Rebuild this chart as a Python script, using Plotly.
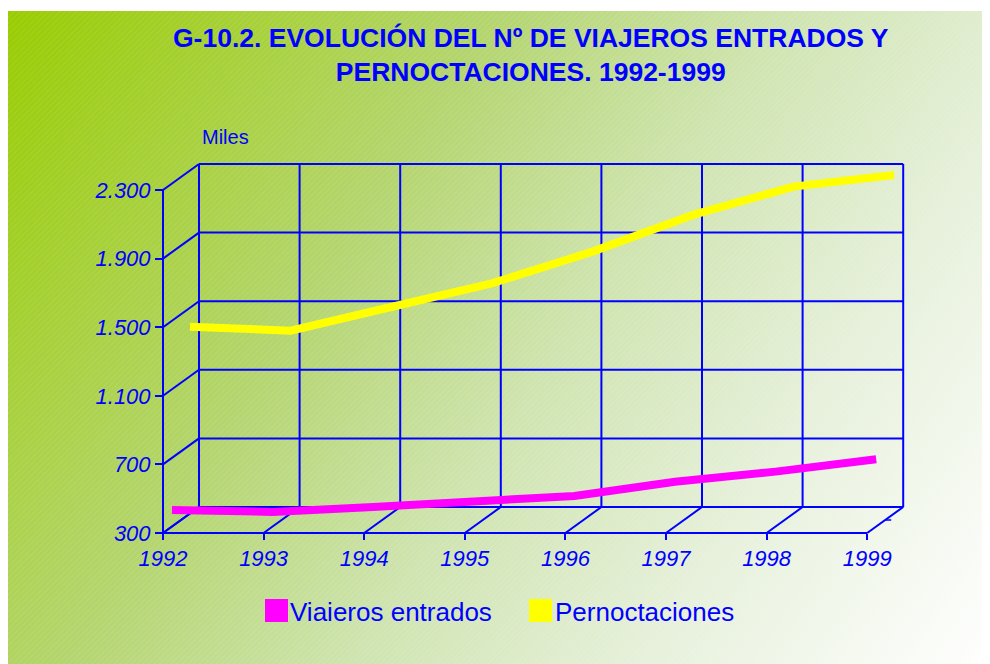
import base64
import plotly.graph_objects as go

# ---------------- data ----------------
years = ["1992", "1993", "1994", "1995", "1996", "1997", "1998", "1999"]
viajeros = [396, 385, 414, 445, 478, 561, 620, 692]          # miles
pernoctaciones = [1389, 1366, 1504, 1642, 1827, 2041, 2206, 2274]  # miles
y_ticks = [300, 700, 1100, 1500, 1900, 2300]
y_ticktext = ["300", "700", "1.100", "1.500", "1.900", "2.300"]
series_names = ["Viaieros entrados", "Pernoctaciones"]
series_colors = ["#FF00FF", "#FFFF00"]

W, H = 990, 664
OFF = 8.0            # page offset of the figure (body margin)
BLUE = "#0000FF"

def fx(px):  # page pixel -> figure paper fraction (x)
    return (px - OFF) / W

def fy(py):  # page pixel -> figure paper fraction (y)
    return 1 - (py - OFF) / H

# ---------------- geometry (pseudo-3D), in page pixels ----------------
PX_X0 = 163.0          # pixel of category 0 on the front axis
PX_PER_X = 100.6
PX_Y0 = 533.0          # pixel of value 300
PX_PER_Y = 343.0 / 2000.0
DEPTH_PX = (36.0, 26.0)
DX = DEPTH_PX[0] / PX_PER_X          # depth offset in x data units
DY = DEPTH_PX[1] / PX_PER_Y          # depth offset in y data units
YMIN, YMAX = y_ticks[0], y_ticks[-1]
NCAT = len(years) - 1

left_px, right_px = 158.0, 912.0
bottom_px, top_px = 536.0, 150.0
x_range = [(left_px - PX_X0) / PX_PER_X, (right_px - PX_X0) / PX_PER_X]
y_range = [YMIN - (bottom_px - PX_Y0) / PX_PER_Y, YMIN + (PX_Y0 - top_px) / PX_PER_Y]

fig = go.Figure()

# series drawn at depth fractions inside the box
depths = [0.25, 0.75]
for vals, name, col, d in zip([viajeros, pernoctaciones], series_names, series_colors, depths):
    fig.add_trace(go.Scatter(
        x=[i + d * DX for i in range(len(years))],
        y=[v + d * DY for v in vals],
        mode="lines", name=name, showlegend=False,
        line=dict(color=col, width=8),
        hoverinfo="skip",
    ))

shapes = []
def seg(x0, y0, x1, y1, w=2):
    shapes.append(dict(type="line", xref="x", yref="y", x0=x0, y0=y0, x1=x1, y1=y1,
                       line=dict(color=BLUE, width=w), layer="below"))

# back wall horizontal gridlines + left wall diagonals
for v in y_ticks:
    seg(DX, v + DY, NCAT + DX, v + DY)
    seg(0, v, DX, v + DY)
# back wall verticals + floor diagonals
for i in range(len(years)):
    seg(i + DX, YMIN + DY, i + DX, YMAX + DY)
    seg(i, YMIN, i + DX, YMIN + DY)
# front axes
seg(0, YMIN, 0, YMAX)
seg(0, YMIN, NCAT, YMIN)
# small depth-axis tick at the right
seg(NCAT + DX / 2, YMIN + DY / 2, NCAT + DX / 2 + 0.06, YMIN + DY / 2, w=1.5)

# manual legend squares
def rect_px(x0, y0, x1, y1, col):
    shapes.append(dict(type="rect", xref="paper", yref="paper",
                       x0=fx(x0), x1=fx(x1), y0=fy(y1), y1=fy(y0),
                       fillcolor=col, line=dict(width=0), layer="above"))
rect_px(265, 599, 288, 622, series_colors[0])
rect_px(529, 599, 552, 622, series_colors[1])

# background gradient image (page area 3..990 x 11..664)
svg = f'''<svg xmlns="http://www.w3.org/2000/svg" width="987" height="653" viewBox="0 0 987 653" preserveAspectRatio="none">
<defs>
<linearGradient id="g" x1="0" y1="0" x2="987" y2="653" gradientUnits="userSpaceOnUse">
<stop offset="0" stop-color="#99CC00"/>
<stop offset="0.35" stop-color="#B4D56F"/>
<stop offset="0.55" stop-color="#CFE4B0"/>
<stop offset="0.75" stop-color="#E6F0DA"/>
<stop offset="1" stop-color="#FFFFFF"/>
</linearGradient>
<pattern id="h" width="4" height="4" patternUnits="userSpaceOnUse" patternTransform="rotate(45)">
<line x1="0" y1="0" x2="0" y2="4" stroke="#ffffff" stroke-width="1" stroke-opacity="0.18"/>
</pattern>
</defs>
<rect width="987" height="653" fill="url(#g)"/>
<rect width="987" height="653" fill="url(#h)"/>
</svg>'''
uri = "data:image/svg+xml;base64," + base64.b64encode(svg.encode()).decode()

font_reg = "Liberation Sans, Arial, sans-serif"

annotations = [
    dict(text="G-10.2. EVOLUCIÓN DEL Nº DE VIAJEROS ENTRADOS Y<br>PERNOCTACIONES. 1992-1999",
         xref="paper", yref="paper", x=fx(531), y=fy(55), xanchor="center", yanchor="middle",
         showarrow=False, font=dict(family=font_reg, size=26.5, color=BLUE, weight="bold")),
    dict(text="Miles", xref="paper", yref="paper", x=fx(200), y=fy(137),
         xanchor="left", yanchor="middle", showarrow=False,
         font=dict(family=font_reg, size=20, color=BLUE)),
    dict(text=series_names[0], xref="paper", yref="paper", x=fx(288), y=fy(612),
         xanchor="left", yanchor="middle", showarrow=False,
         font=dict(family=font_reg, size=26, color=BLUE)),
    dict(text=series_names[1], xref="paper", yref="paper", x=fx(553), y=fy(612),
         xanchor="left", yanchor="middle", showarrow=False,
         font=dict(family=font_reg, size=26, color=BLUE)),
]

tickfont = dict(family=font_reg, size=22, color=BLUE, style="italic")

fig.update_layout(
    template="none",
    width=W, height=H,
    margin=dict(l=0, r=0, t=0, b=0, pad=0, autoexpand=False),
    paper_bgcolor="white", plot_bgcolor="rgba(0,0,0,0)",
    showlegend=False,
    xaxis=dict(domain=[fx(left_px), fx(right_px)], range=x_range,
               anchor="free", position=fy(PX_Y0), automargin=False,
               tickvals=list(range(len(years))), ticktext=years,
               ticks="outside", ticklen=6, tickwidth=2, tickcolor=BLUE,
               showgrid=False, zeroline=False, showline=False, tickfont=tickfont),
    yaxis=dict(domain=[fy(bottom_px), fy(top_px)], range=y_range,
               anchor="free", position=fx(PX_X0), automargin=False,
               tickvals=y_ticks, ticktext=y_ticktext,
               ticks="outside", ticklen=8, tickwidth=2, tickcolor=BLUE,
               showgrid=False, zeroline=False, showline=False, tickfont=tickfont),
    shapes=shapes,
    annotations=annotations,
    images=[dict(source=uri, xref="paper", yref="paper", x=fx(3), y=fy(11),
                 sizex=987 / W, sizey=653 / H, sizing="stretch",
                 xanchor="left", yanchor="top", layer="below")],
)

fig.write_html("out.html")
